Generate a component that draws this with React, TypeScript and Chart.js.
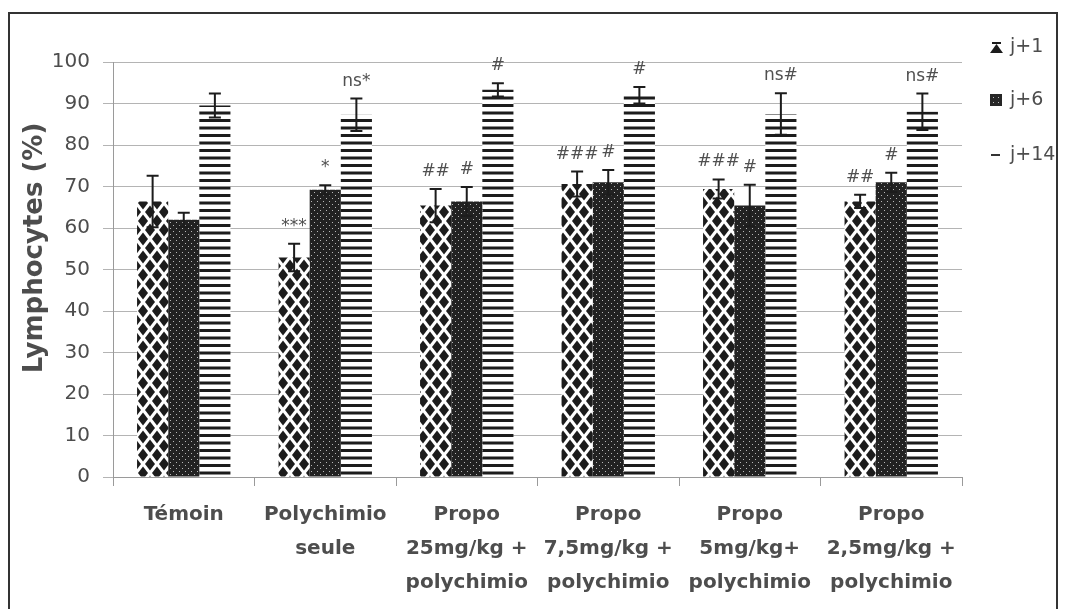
import React, { useEffect, useRef } from "react";
import { Chart, registerables } from "chart.js";

Chart.register(...registerables);

// ---------- data ----------
const categories: string[][] = [
  ["Témoin"],
  ["Polychimio", "seule"],
  ["Propo", "25mg/kg +", "polychimio"],
  ["Propo", "7,5mg/kg +", "polychimio"],
  ["Propo", "5mg/kg+", "polychimio"],
  ["Propo", "2,5mg/kg +", "polychimio"],
];
const seriesNames = ["j+1", "j+6", "j+14"];
const j1Values = [66.4, 52.9, 65.4, 70.6, 69.4, 66.4];
const j1Errors = [6.2, 3.3, 4.0, 3.0, 2.3, 1.6];
const j6Values = [62.0, 69.2, 66.4, 71.0, 65.4, 71.0];
const j6Errors = [1.7, 1.1, 3.5, 3.0, 5.0, 2.3];
const j14Values = [89.5, 87.3, 93.3, 92.0, 87.5, 88.0];
const j14Errors = [2.9, 3.9, 1.6, 2.0, 5.0, 4.4];
const j1Marks = ["", "***", "##", "###", "###", "##"];
const j6Marks = ["", "*", "#", "#", "#", "#"];
const j14Marks = ["", "ns*", "#", "#", "ns#", "ns#"];
const yMin = 0;
const yMax = 100;
const yStep = 10;
const yTitle = "Lymphocytes (%)";

const FONT = "'DejaVu Sans', sans-serif";
const TEXT = "#4d4d4d";
const INK = "#1c1c1c";

function makeTile(w: number, h: number, draw: (c: CanvasRenderingContext2D) => void) {
  const cv = document.createElement("canvas");
  cv.width = w;
  cv.height = h;
  const c = cv.getContext("2d")!;
  draw(c);
  return cv;
}

function diamondPattern(ctx: CanvasRenderingContext2D) {
  const tile = makeTile(14, 18, (c) => {
    c.fillStyle = "#ffffff";
    c.fillRect(0, 0, 14, 18);
    c.fillStyle = INK;
    const hw = 5.0,
      hh = 6.4;
    const centers = [
      [0, 0],
      [14, 0],
      [0, 18],
      [14, 18],
      [7, 9],
    ];
    for (const [x, y] of centers) {
      c.beginPath();
      c.moveTo(x, y - hh);
      c.lineTo(x + hw, y);
      c.lineTo(x, y + hh);
      c.lineTo(x - hw, y);
      c.closePath();
      c.fill();
    }
  });
  return ctx.createPattern(tile, "repeat")!;
}

function dotPattern(ctx: CanvasRenderingContext2D) {
  const tile = makeTile(6, 6, (c) => {
    c.fillStyle = "#222222";
    c.fillRect(0, 0, 6, 6);
    c.fillStyle = "#b8b8b8";
    c.fillRect(1, 1, 1, 1);
    c.fillRect(4, 4, 1, 1);
  });
  return ctx.createPattern(tile, "repeat")!;
}

function linePattern(ctx: CanvasRenderingContext2D) {
  const tile = makeTile(8, 15, (c) => {
    c.fillStyle = "#ffffff";
    c.fillRect(0, 0, 8, 15);
    c.fillStyle = INK;
    c.fillRect(0, 0, 8, 3);
    c.fillRect(0, 7.5, 8, 3);
  });
  return ctx.createPattern(tile, "repeat")!;
}

const errorBarsPlugin = {
  id: "errorBars",
  afterDatasetsDraw(chart: any) {
    const { ctx } = chart;
    const yScale = chart.scales.y;
    chart.data.datasets.forEach((ds: any, di: number) => {
      const meta = chart.getDatasetMeta(di);
      meta.data.forEach((bar: any, i: number) => {
        const v = ds.data[i];
        const e = ds.errors[i];
        const x = bar.x;
        const yt = yScale.getPixelForValue(v + e);
        const yb = yScale.getPixelForValue(v - e);
        ctx.save();
        ctx.strokeStyle = INK;
        ctx.lineWidth = 2;
        ctx.beginPath();
        ctx.moveTo(x, yt);
        ctx.lineTo(x, yb);
        ctx.moveTo(x - 6, yt);
        ctx.lineTo(x + 6, yt);
        ctx.moveTo(x - 6, yb);
        ctx.lineTo(x + 6, yb);
        ctx.stroke();
        const mark = ds.marks[i];
        if (mark) {
          ctx.fillStyle = "#505050";
          ctx.font = `17px ${FONT}`;
          ctx.textAlign = "center";
          ctx.textBaseline = "alphabetic";
          ctx.fillText(mark, x, yt - 13);
        }
        ctx.restore();
      });
    });
  },
};

const sideTextPlugin = {
  id: "sideText",
  afterDraw(chart: any) {
    const { ctx } = chart;
    // y axis title
    ctx.save();
    ctx.translate(25, 234);
    ctx.rotate(-Math.PI / 2);
    ctx.fillStyle = TEXT;
    ctx.font = `bold 26px ${FONT}`;
    ctx.textAlign = "center";
    ctx.textBaseline = "middle";
    ctx.fillText(yTitle, 0, 0);
    ctx.restore();

    // legend
    const ys = [33, 86, 141];
    ctx.save();
    // j+1 icon
    ctx.fillStyle = INK;
    ctx.fillRect(982, 28, 9, 2);
    ctx.beginPath();
    ctx.moveTo(986.5, 30);
    ctx.lineTo(993, 39);
    ctx.lineTo(980, 39);
    ctx.closePath();
    ctx.fill();
    // j+6 icon
    ctx.fillStyle = "#262626";
    ctx.fillRect(980, 80, 12, 12);
    ctx.fillStyle = "#bdbdbd";
    ctx.fillRect(983, 83, 1, 1);
    ctx.fillRect(988, 83, 1, 1);
    ctx.fillRect(983, 88, 1, 1);
    ctx.fillRect(988, 88, 1, 1);
    // j+14 icon
    ctx.fillStyle = "#333";
    ctx.fillRect(981, 140, 9, 2);
    ctx.fillStyle = TEXT;
    ctx.font = `19px ${FONT}`;
    ctx.textAlign = "left";
    ctx.textBaseline = "middle";
    seriesNames.forEach((n, i) => ctx.fillText(n, 1000, ys[i]));
    ctx.restore();
  },
};

export default function App() {
  const ref = useRef<HTMLCanvasElement | null>(null);
  useEffect(() => {
    const canvas = ref.current!;
    const ctx = canvas.getContext("2d")!;
    const common = { barPercentage: 1, categoryPercentage: 0.66, borderWidth: 0 };
    const chart = new Chart(ctx, {
      type: "bar",
      data: {
        labels: categories,
        datasets: [
          { label: seriesNames[0], data: j1Values, errors: j1Errors, marks: j1Marks, backgroundColor: diamondPattern(ctx), ...common } as any,
          { label: seriesNames[1], data: j6Values, errors: j6Errors, marks: j6Marks, backgroundColor: dotPattern(ctx), ...common } as any,
          { label: seriesNames[2], data: j14Values, errors: j14Errors, marks: j14Marks, backgroundColor: linePattern(ctx), ...common } as any,
        ],
      },
      options: {
        responsive: true,
        maintainAspectRatio: false,
        animation: false,
        layout: { padding: { top: 48, right: 94, left: 0, bottom: 0 } },
        plugins: {
          legend: { display: false },
          tooltip: { enabled: false },
        },
        scales: {
          x: {
            offset: true,
            grid: { offset: true, drawOnChartArea: false, drawTicks: true, tickLength: 9, color: "#9a9a9a" },
            border: { display: true, color: "#9a9a9a", width: 1 },
            ticks: {
              autoSkip: false,
              maxRotation: 0,
              minRotation: 0,
              padding: 12,
              color: TEXT,
              font: { family: FONT, size: 20, weight: "bold", lineHeight: 1.7 },
            },
            afterFit: (s: any) => {
              s.height = 137;
            },
          },
          y: {
            min: yMin,
            max: yMax,
            ticks: { stepSize: yStep, padding: 13, color: TEXT, font: { family: FONT, size: 20 } },
            grid: { color: "#b4b4b4", tickLength: 10, drawTicks: true },
            border: { display: true, color: "#9a9a9a" },
            afterFit: (s: any) => {
              s.width = 103;
            },
          },
        },
      } as any,
      plugins: [errorBarsPlugin, sideTextPlugin],
    });
    return () => chart.destroy();
  }, []);

  return (
    <div style={{ paddingTop: 4 }}>
      <div style={{ border: "2px solid #333", width: 1046, height: 600, background: "#fff" }}>
        <div style={{ position: "relative", width: 1046, height: 600 }}>
          <canvas ref={ref} />
        </div>
      </div>
    </div>
  );
}
